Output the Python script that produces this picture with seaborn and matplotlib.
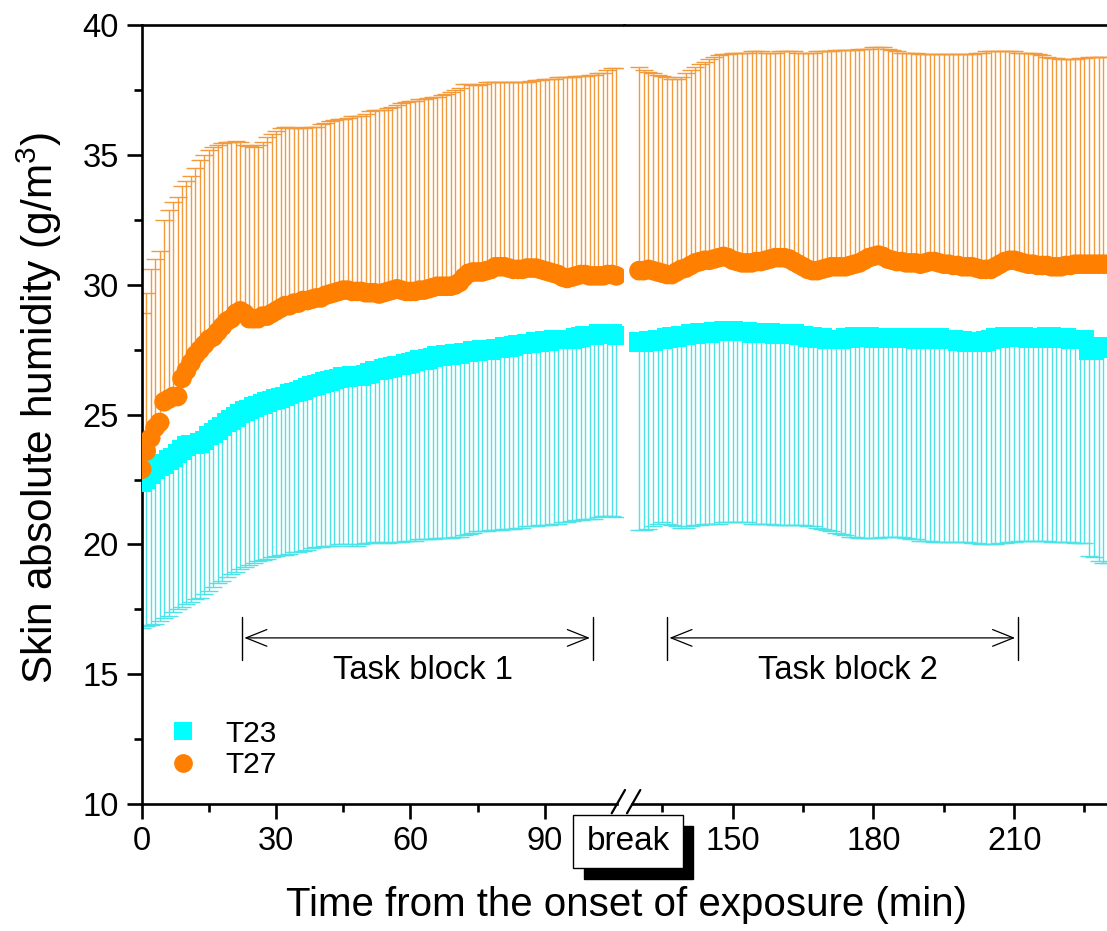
import numpy as np
import pandas as pd
import matplotlib
matplotlib.use("Agg")
import matplotlib.pyplot as plt
import seaborn as sns
from matplotlib.lines import Line2D
from matplotlib.patches import Rectangle, FancyArrowPatch

# ---------------- data ----------------
# block 1: 0..106 min, block 2: 130..230 min (1-min sampling)
time_block1 = np.arange(0, 107)
time_block2 = np.arange(130, 231)

t27_mean_1 = [22.9, 23.6, 24.1, 24.5, 24.7, 25.5, 25.6, 25.7, 25.7, 26.4,
              26.7, 27.0, 27.3, 27.5, 27.7, 27.9, 28.0, 28.2, 28.4, 28.6,
              28.7, 28.9, 29.0, 28.9, 28.7, 28.7, 28.7, 28.8, 28.8, 28.9,
              29.0, 29.1, 29.2, 29.2, 29.3, 29.3, 29.4, 29.4, 29.45, 29.5,
              29.5, 29.6, 29.65, 29.7, 29.75, 29.8, 29.8, 29.75, 29.75, 29.75,
              29.7, 29.7, 29.7, 29.65, 29.7, 29.75, 29.8, 29.85, 29.8, 29.75,
              29.75, 29.75, 29.8, 29.8, 29.85, 29.9, 29.95, 29.95, 29.95, 29.95,
              30.0, 30.1, 30.3, 30.45, 30.5, 30.5, 30.5, 30.55, 30.6, 30.7,
              30.7, 30.7, 30.65, 30.6, 30.6, 30.6, 30.65, 30.65, 30.65, 30.6,
              30.55, 30.5, 30.45, 30.4, 30.3, 30.25, 30.3, 30.35, 30.4, 30.4,
              30.35, 30.35, 30.35, 30.35, 30.4, 30.4, 30.35]
t27_upper_1 = [28.9, 29.7, 30.6, 31.0, 31.3, 32.5, 32.9, 33.2, 33.4, 33.8,
               34.0, 34.2, 34.5, 34.8, 35.0, 35.2, 35.3, 35.4, 35.45, 35.5,
               35.5, 35.55, 35.5, 35.4, 35.35, 35.3, 35.4, 35.5, 35.7, 35.8,
               35.95, 36.05, 36.1, 36.1, 36.05, 36.05, 36.05, 36.1, 36.1, 36.1,
               36.2, 36.25, 36.3, 36.35, 36.4, 36.4, 36.45, 36.5, 36.5, 36.5,
               36.6, 36.7, 36.75, 36.75, 36.75, 36.8, 36.85, 36.95, 37.0, 37.05,
               37.1, 37.1, 37.15, 37.15, 37.2, 37.25, 37.25, 37.3, 37.35, 37.45,
               37.5, 37.6, 37.75, 37.75, 37.7, 37.7, 37.75, 37.8, 37.8, 37.8,
               37.8, 37.8, 37.8, 37.8, 37.8, 37.8, 37.8, 37.85, 37.9, 37.9,
               37.95, 37.95, 37.95, 38.0, 38.0, 38.0, 38.0, 38.05, 38.05, 38.05,
               38.1, 38.1, 38.15, 38.15, 38.3, 38.35, 38.35]
t23_mean_1 = [22.4, 22.5, 22.7, 22.9, 23.0, 23.1, 23.25, 23.35, 23.5, 23.65,
              23.8, 23.85, 23.85, 23.9, 24.0, 24.2, 24.3, 24.4, 24.55, 24.7,
              24.8, 24.9, 25.05, 25.15, 25.2, 25.3, 25.35, 25.4, 25.5, 25.55,
              25.6, 25.65, 25.7, 25.8, 25.85, 25.9, 25.95, 26.05, 26.1, 26.15,
              26.2, 26.25, 26.3, 26.35, 26.4, 26.45, 26.45, 26.5, 26.5, 26.5,
              26.55, 26.6, 26.7, 26.7, 26.75, 26.8, 26.85, 26.9, 26.9, 26.95,
              27.0, 27.05, 27.1, 27.1, 27.15, 27.2, 27.25, 27.25, 27.3, 27.3,
              27.35, 27.35, 27.4, 27.4, 27.45, 27.45, 27.5, 27.5, 27.5, 27.55,
              27.55, 27.6, 27.6, 27.65, 27.7, 27.7, 27.75, 27.75, 27.8, 27.8,
              27.85, 27.85, 27.9, 27.9, 27.9, 27.9, 27.9, 27.95, 28.0, 28.05,
              28.05, 28.05, 28.1, 28.1, 28.1, 28.1, 28.05]
t23_lower_1 = [16.8, 16.85, 16.9, 16.95, 17.05, 17.15, 17.25, 17.4, 17.5, 17.6,
               17.7, 17.8, 17.9, 17.95, 18.1, 18.2, 18.35, 18.5, 18.6, 18.75,
               18.85, 18.95, 19.05, 19.15, 19.2, 19.3, 19.35, 19.4, 19.45, 19.5,
               19.55, 19.6, 19.6, 19.65, 19.7, 19.7, 19.75, 19.8, 19.85, 19.9,
               19.9, 19.95, 19.95, 19.95, 20.0, 20.0, 20.0, 19.95, 19.95, 20.0,
               20.05, 20.05, 20.1, 20.1, 20.05, 20.05, 20.1, 20.1, 20.1, 20.15,
               20.15, 20.15, 20.2, 20.2, 20.2, 20.2, 20.25, 20.25, 20.25, 20.25,
               20.3, 20.3, 20.35, 20.4, 20.45, 20.5, 20.5, 20.5, 20.55, 20.55,
               20.55, 20.6, 20.6, 20.6, 20.65, 20.65, 20.7, 20.7, 20.7, 20.75,
               20.75, 20.75, 20.8, 20.8, 20.85, 20.85, 20.9, 20.95, 20.95, 21.0,
               21.0, 21.0, 21.05, 21.1, 21.1, 21.1, 21.05]

t27_mean_2 = [30.55, 30.55, 30.6, 30.55, 30.5, 30.45, 30.4, 30.4, 30.5, 30.6,
              30.65, 30.75, 30.85, 30.9, 30.95, 30.95, 31.0, 31.05, 31.1, 31.05,
              30.95, 30.9, 30.85, 30.85, 30.85, 30.9, 30.9, 30.95, 31.0, 31.05,
              31.05, 31.05, 31.0, 30.9, 30.8, 30.7, 30.6, 30.55, 30.55, 30.6,
              30.65, 30.7, 30.7, 30.7, 30.7, 30.75, 30.8, 30.85, 30.95, 31.05,
              31.1, 31.15, 31.1, 31.0, 30.95, 30.9, 30.9, 30.85, 30.85, 30.85,
              30.8, 30.85, 30.9, 30.9, 30.85, 30.8, 30.8, 30.75, 30.75, 30.7,
              30.7, 30.7, 30.65, 30.6, 30.6, 30.6, 30.7, 30.8, 30.9, 30.95,
              30.95, 30.9, 30.85, 30.8, 30.8, 30.75, 30.75, 30.75, 30.7, 30.7,
              30.7, 30.75, 30.75, 30.8, 30.8, 30.8, 30.8, 30.8, 30.8, 30.8,
              30.8]
t27_upper_2 = [38.4, 38.3, 38.2, 38.15, 38.1, 38.05, 38.0, 37.95, 37.95, 38.0,
               38.15, 38.3, 38.4, 38.5, 38.6, 38.7, 38.8, 38.85, 38.9, 38.9,
               38.95, 38.95, 38.95, 38.95, 39.0, 39.0, 39.0, 38.95, 38.95, 38.95,
               39.0, 39.0, 39.0, 39.0, 38.95, 38.95, 38.95, 38.95, 39.0, 39.0,
               39.0, 39.0, 39.05, 39.05, 39.05, 39.05, 39.05, 39.1, 39.1, 39.1,
               39.15, 39.15, 39.15, 39.1, 39.05, 39.0, 38.95, 38.95, 38.95, 38.95,
               38.9, 38.9, 38.9, 38.9, 38.9, 38.9, 38.9, 38.9, 38.9, 38.9,
               38.9, 38.9, 38.95, 38.95, 39.0, 39.0, 39.0, 39.0, 39.0, 39.0,
               39.0, 38.95, 38.95, 38.95, 38.95, 38.9, 38.85, 38.8, 38.75, 38.75,
               38.7, 38.7, 38.7, 38.7, 38.75, 38.75, 38.8, 38.8, 38.8, 38.8,
               38.8]
t23_mean_2 = [27.8, 27.8, 27.85, 27.85, 27.9, 27.9, 27.95, 28.0, 28.0, 28.05,
              28.05, 28.1, 28.1, 28.15, 28.15, 28.15, 28.2, 28.2, 28.25, 28.25,
              28.25, 28.2, 28.2, 28.2, 28.15, 28.15, 28.15, 28.15, 28.15, 28.1,
              28.1, 28.1, 28.1, 28.1, 28.05, 28.05, 28.0, 28.0, 27.95, 27.95,
              27.9, 27.9, 27.9, 27.9, 27.95, 27.95, 28.0, 28.0, 28.0, 28.0,
              27.95, 27.95, 27.95, 27.95, 27.95, 27.95, 27.95, 27.95, 27.95, 27.9,
              27.9, 27.9, 27.95, 27.95, 27.95, 27.9, 27.9, 27.9, 27.85, 27.85,
              27.8, 27.8, 27.8, 27.8, 27.85, 27.9, 27.95, 27.95, 28.0, 28.0,
              28.0, 28.0, 28.0, 27.95, 27.95, 27.95, 27.95, 28.0, 28.0, 27.95,
              27.95, 27.95, 27.9, 27.9, 27.9, 27.9, 27.5, 27.5, 27.55, 27.6,
              27.6]
t23_lower_2 = [20.55, 20.55, 20.6, 20.7, 20.8, 20.85, 20.8, 20.75, 20.7, 20.65,
               20.65, 20.7, 20.75, 20.75, 20.8, 20.8, 20.8, 20.8, 20.85, 20.85,
               20.85, 20.85, 20.85, 20.85, 20.8, 20.8, 20.8, 20.8, 20.8, 20.75,
               20.75, 20.75, 20.75, 20.75, 20.75, 20.75, 20.7, 20.7, 20.65, 20.6,
               20.55, 20.5, 20.45, 20.4, 20.35, 20.3, 20.3, 20.25, 20.25, 20.25,
               20.25, 20.25, 20.3, 20.3, 20.3, 20.3, 20.3, 20.25, 20.2, 20.2,
               20.15, 20.15, 20.15, 20.1, 20.1, 20.1, 20.1, 20.1, 20.1, 20.1,
               20.1, 20.05, 20.05, 20.0, 20.0, 20.0, 20.0, 20.05, 20.05, 20.1,
               20.1, 20.15, 20.15, 20.15, 20.15, 20.15, 20.15, 20.15, 20.1, 20.1,
               20.1, 20.1, 20.1, 20.05, 20.05, 20.05, 19.55, 19.5, 19.35, 19.3,
               19.3]

series_names = ["T23", "T27"]
x_major_1 = [0, 30, 60, 90]
x_minor_1 = [15, 45, 75]
x_major_2 = [150, 180, 210]
x_minor_2 = [135, 165, 195, 225]
y_major = [10, 15, 20, 25, 30, 35, 40]
task_labels = ["Task block 1", "Task block 2"]
task_spans = [(22.3, 100.7), (135.9, 210.8)]

# ---------------- styling ----------------
CYAN = "#00FFFF"
ORANGE = "#FF7F00"
CYAN_BAR = "#4FE3E8"
ORANGE_BAR = "#F39A3C"

sns.set_theme(style="ticks")
plt.rcParams["font.family"] = ["Liberation Sans", "DejaVu Sans"]
plt.rcParams["mathtext.fontset"] = "custom"
plt.rcParams["mathtext.rm"] = "Liberation Sans"
plt.rcParams["mathtext.default"] = "regular"
plt.rcParams["text.color"] = "black"

W, H = 1107, 931
fig = plt.figure(figsize=(W / 100, H / 100), dpi=100)


def fx(x):
    return x / W


def fy(y):
    return 1 - y / H


Y_TOP, Y_BOT = 25.4, 804.0
BREAK_X = 624.0
axL = fig.add_axes([fx(141.7), fy(Y_BOT), (BREAK_X - 141.7) / W, (Y_BOT - Y_TOP) / H])
axR = fig.add_axes([fx(BREAK_X), fy(Y_BOT), (W - BREAK_X) / W, (Y_BOT - Y_TOP) / H])

blocks = [
    (axL, time_block1, t23_mean_1, t23_lower_1, t27_mean_1, t27_upper_1, (0, 107.7)),
    (axR, time_block2, t23_mean_2, t23_lower_2, t27_mean_2, t27_upper_2, (126.8, 229.8)),
]

for ax, tt, m23, lo23, m27, up27, xl in blocks:
    m23 = np.asarray(m23); lo23 = np.asarray(lo23)
    m27 = np.asarray(m27); up27 = np.asarray(up27)
    ax.errorbar(tt, m23, yerr=[m23 - lo23, np.zeros_like(m23)], fmt="none",
                ecolor=CYAN_BAR, elinewidth=1.0, capsize=6.5, capthick=1.0, zorder=2)
    ax.errorbar(tt, m27, yerr=[np.zeros_like(m27), up27 - m27], fmt="none",
                ecolor=ORANGE_BAR, elinewidth=1.0, capsize=6.5, capthick=1.0, zorder=2)
    df = pd.concat([
        pd.DataFrame({"time": tt, "value": m23, "series": "T23"}),
        pd.DataFrame({"time": tt, "value": m27, "series": "T27"}),
    ])
    sns.scatterplot(data=df, x="time", y="value", hue="series", style="series",
                    palette={"T23": CYAN, "T27": ORANGE},
                    markers={"T23": "s", "T27": "o"}, s=200, linewidth=0,
                    legend=False, ax=ax, zorder=3)
    ax.set_xlim(*xl)
    ax.set_ylim(10, 40)
    ax.set_xlabel("")
    ax.set_ylabel("")
    for s in ax.spines.values():
        s.set_linewidth(1.9)
        s.set_color("black")
    ax.spines["right"].set_visible(False)
    ax.tick_params(axis="both", which="major", direction="out", length=10.5, width=1.9,
                   labelsize=23.5, color="black", labelcolor="black")
    ax.tick_params(axis="both", which="minor", direction="out", length=5.5, width=1.9,
                   color="black")
    ax.set_facecolor("white")

# left axes ticks
axL.set_xticks(x_major_1)
axL.set_xticks(x_minor_1, minor=True)
axL.set_yticks(y_major)
axL.set_yticks([12.5, 17.5, 22.5, 27.5, 32.5, 37.5], minor=True)
axL.tick_params(axis="x", which="major", pad=5)
axL.tick_params(axis="y", which="major", pad=6)
axL.spines["bottom"].set_bounds(0, (617 - 141.7) / 4.478)

# right axes ticks
axR.spines["left"].set_visible(False)
axR.set_yticks([])
axR.set_xticks(x_major_2)
axR.set_xticks(x_minor_2, minor=True)
axR.tick_params(axis="x", which="major", pad=5)
axR.spines["bottom"].set_bounds(150 - (732.7 - 632) / 4.69, 229.8)

# task block annotations
for ax, lab, (a, b) in zip([axL, axR], task_labels, task_spans):
    for xv in (a, b):
        ax.plot([xv, xv], [15.55, 17.2], color="black", lw=1.0, zorder=4)
    arr = FancyArrowPatch((a, 16.4), (b, 16.4),
                          arrowstyle="<->,head_length=0.75,head_width=0.3",
                          mutation_scale=20, lw=0.9, color="black", zorder=4)
    ax.add_patch(arr)
    ax.text((a + b) / 2 + 1.3, 15.15, lab, ha="center", va="center", fontsize=23.5,
            color="black")

# legend
handles = [Line2D([], [], marker="s", ls="", color=CYAN, markersize=13, markeredgewidth=0),
           Line2D([], [], marker="o", ls="", color=ORANGE, markersize=13.5, markeredgewidth=0)]
axL.legend(handles, series_names, loc="center left",
           bbox_to_anchor=(fx(170), fy(749.5)), bbox_transform=fig.transFigure,
           frameon=False, fontsize=21.5, handlelength=0.9, handletextpad=0.95,
           borderpad=0, borderaxespad=0, labelspacing=0.12, labelcolor="black")

# axis labels
fig.text(fx(626), fy(905), "Time from the onset of exposure (min)", ha="center",
         va="center", fontsize=29, color="black")
fig.text(fx(39), fy(408), "Skin absolute humidity (g/m$^3$)", ha="center",
         va="center", rotation=90, fontsize=30.5, color="black")

# axis break marks on the bottom axis
for x0 in (611.7, 627.0):
    fig.add_artist(Line2D([fx(x0), fx(x0 + 13.3)], [fy(813.3), fy(790)],
                          transform=fig.transFigure, color="black", lw=1.6))

# "break" box with shadow
fig.add_artist(Rectangle((fx(584), fy(879)), (693 - 584) / W, (879 - 826) / H,
                         transform=fig.transFigure, facecolor="black", edgecolor="black",
                         zorder=5))
fig.add_artist(Rectangle((fx(573), fy(868)), (683 - 573) / W, (868 - 815) / H,
                         transform=fig.transFigure, facecolor="white", edgecolor="black",
                         lw=1.0, zorder=6))
fig.text(fx(628), fy(842), "break", ha="center", va="center", fontsize=24,
         color="black", zorder=7)

fig.savefig("out.png", dpi=100, facecolor="white")
